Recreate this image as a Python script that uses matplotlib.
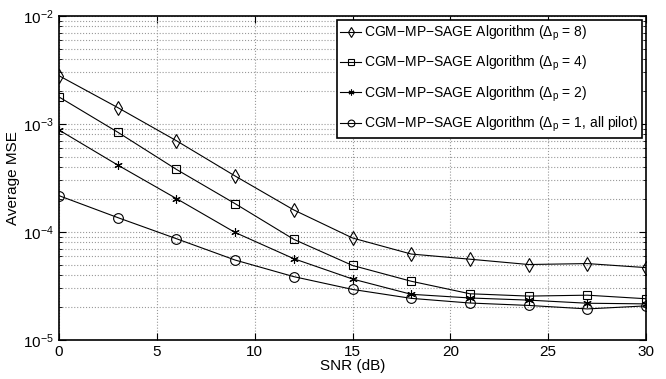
import matplotlib
matplotlib.use("Agg")
import matplotlib.pyplot as plt
from matplotlib.ticker import LogLocator, NullFormatter

plt.rcParams['font.family'] = ['Liberation Sans', 'DejaVu Sans']
plt.rcParams['mathtext.fontset'] = 'custom'
plt.rcParams['mathtext.rm'] = 'Liberation Sans'
plt.rcParams['mathtext.it'] = 'Liberation Sans:italic'
plt.rcParams['mathtext.bf'] = 'Liberation Sans:bold'

snr = [0, 3, 6, 9, 12, 15, 18, 21, 24, 27, 30]
mse_dp8 = [2.8e-3, 1.42e-3, 7.0e-4, 3.3e-4, 1.6e-4, 8.8e-5, 6.25e-5, 5.6e-5, 5.0e-5, 5.1e-5, 4.68e-5]
mse_dp4 = [1.78e-3, 8.4e-4, 3.8e-4, 1.83e-4, 8.55e-5, 4.9e-5, 3.5e-5, 2.68e-5, 2.55e-5, 2.6e-5, 2.41e-5]
mse_dp2 = [8.8e-4, 4.17e-4, 2.04e-4, 9.9e-5, 5.66e-5, 3.67e-5, 2.65e-5, 2.45e-5, 2.34e-5, 2.19e-5, 2.16e-5]
mse_dp1 = [2.17e-4, 1.36e-4, 8.67e-5, 5.5e-5, 3.86e-5, 2.94e-5, 2.43e-5, 2.2e-5, 2.09e-5, 1.94e-5, 2.07e-5]

labels = [
    r'CGM−MP−SAGE Algorithm ($\Delta_{\rm p}$ = 8)',
    r'CGM−MP−SAGE Algorithm ($\Delta_{\rm p}$ = 4)',
    r'CGM−MP−SAGE Algorithm ($\Delta_{\rm p}$ = 2)',
    r'CGM−MP−SAGE Algorithm ($\Delta_{\rm p}$ = 1, all pilot)',
]
series = [mse_dp8, mse_dp4, mse_dp2, mse_dp1]
markers = ['d', 's', (6, 2, 0), 'o']
msizes = [7, 5.5, 6, 7]

fig = plt.figure(figsize=(6.66, 3.79), dpi=100)
ax = fig.add_axes([59/666, 1-340/379, (646-59)/666, (340-16)/379])

for ys, m, ms, lab in zip(series, markers, msizes, labels):
    ax.plot(snr, ys, color='black', lw=0.8, marker=m, markersize=ms,
            markerfacecolor='none', markeredgecolor='black', markeredgewidth=0.8,
            label=lab)

ax.set_yscale('log')
ax.set_xlim(0, 30)
ax.set_ylim(1e-5, 1e-2)
ax.set_xticks([0, 5, 10, 15, 20, 25, 30])
ax.yaxis.set_major_locator(LogLocator(base=10, numticks=10))
ax.yaxis.set_minor_locator(LogLocator(base=10, subs=range(2, 10), numticks=50))
ax.yaxis.set_minor_formatter(NullFormatter())

ax.grid(True, which='major', axis='both', linestyle=':', color='#999999', linewidth=0.8)
ax.grid(True, which='minor', axis='y', linestyle=':', color='#999999', linewidth=0.8)
ax.tick_params(which='both', direction='in', top=True, right=True, labelsize=11, color='black')
ax.tick_params(which='major', length=5)
ax.tick_params(which='minor', length=2.5)
for s in ax.spines.values():
    s.set_linewidth(1.2)
    s.set_color('black')

ax.set_xlabel('SNR (dB)', fontsize=11, labelpad=0)
ax.set_ylabel('Average MSE', fontsize=11, labelpad=2)

leg = ax.legend(loc='upper right', fontsize=10, frameon=True, fancybox=False,
                edgecolor='black', framealpha=1, handlelength=1.5, handletextpad=0.2,
                borderpad=0.25, labelspacing=0.8, borderaxespad=0.3, markerscale=0.7)
leg.get_frame().set_linewidth(1.2)

fig.savefig('out.png', dpi=100)
